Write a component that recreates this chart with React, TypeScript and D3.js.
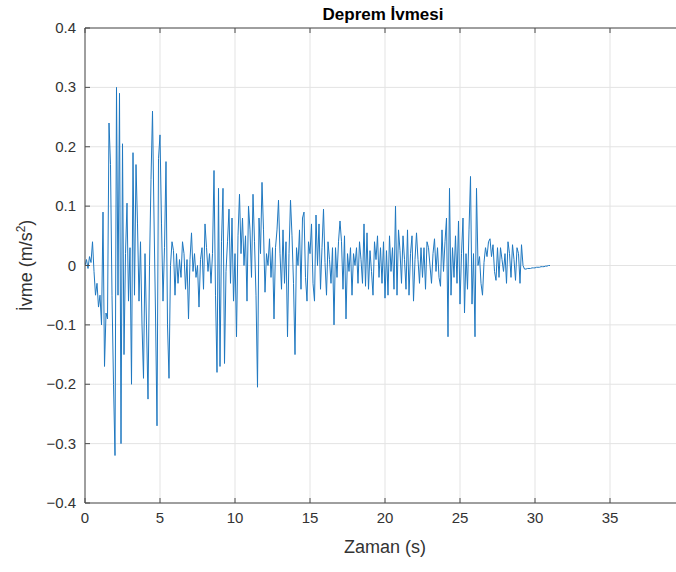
import React from "react";
import * as d3 from "d3";

const dt = 0.1;
const accel: number[] = [
  // 0-1 s
  0.000, 0.010, -0.005, 0.015, 0.005, 0.040, -0.010, -0.050, -0.030, -0.070,
  // 1-2
  -0.050, -0.100, 0.090, -0.170, -0.080, -0.090, 0.240, 0.170, -0.050, -0.200,
  // 2-3
  -0.320, 0.300, -0.050, 0.290, -0.300, 0.205, -0.150, 0.020, 0.105, -0.060,
  // 3-4
  0.030, -0.200, 0.190, -0.050, 0.170, 0.070, -0.060, 0.040, -0.100, -0.190,
  // 4-5
  0.020, -0.100, -0.225, 0.000, 0.145, 0.260, 0.080, -0.080, -0.270, 0.180,
  // 5-6
  0.220, 0.070, -0.060, 0.030, 0.175, -0.100, -0.190, 0.000, 0.040, 0.025,
  // 6-7
  -0.050, 0.020, -0.030, 0.010, -0.020, 0.040, 0.020, -0.040, 0.010, -0.090,
  // 7-8
  0.010, 0.055, -0.010, 0.020, -0.020, 0.000, -0.070, 0.010, 0.030, -0.040,
  // 8-9
  0.070, 0.030, -0.010, 0.020, -0.030, 0.020, 0.160, -0.050, -0.180, 0.130,
  // 9-10
  -0.170, 0.040, 0.130, -0.165, -0.010, 0.040, 0.095, -0.030, 0.080, -0.060,
  // 10-11
  0.020, -0.120, 0.050, 0.120, 0.020, 0.080, 0.000, 0.050, -0.060, 0.100,
  // 11-12
  0.060, -0.020, 0.120, 0.040, -0.050, -0.205, 0.080, 0.020, 0.140, 0.060,
  // 12-13
  -0.045, 0.020, 0.000, 0.045, -0.020, 0.030, -0.090, 0.030, 0.060, 0.110,
  // 13-14
  0.020, -0.040, 0.060, -0.030, 0.040, -0.120, 0.020, 0.110, 0.050, -0.030,
  // 14-15
  -0.150, 0.030, 0.000, 0.060, -0.040, 0.080, 0.090, -0.020, -0.060, 0.040,
  // 15-16
  0.020, 0.070, -0.030, -0.060, 0.085, 0.000, 0.070, -0.040, 0.030, 0.095,
  // 16-17
  0.005, -0.050, 0.040, 0.010, -0.030, 0.030, -0.100, 0.030, -0.020, 0.040,
  // 17-18
  0.075, 0.040, -0.040, 0.050, -0.090, 0.020, -0.010, 0.030, -0.050, 0.020,
  // 18-19
  0.000, 0.030, -0.030, 0.040, 0.010, -0.030, 0.070, -0.035, 0.055, -0.040,
  // 19-20
  0.025, -0.010, -0.050, 0.040, 0.010, 0.050, -0.020, 0.030, -0.030, 0.040,
  // 20-21
  -0.055, 0.025, -0.050, 0.050, -0.010, 0.030, -0.040, 0.100, -0.050, 0.060,
  // 21-22
  0.025, -0.030, 0.050, 0.010, -0.040, 0.060, -0.050, 0.020, 0.050, -0.060,
  // 22-23
  0.010, 0.055, 0.010, -0.030, 0.030, -0.020, 0.030, -0.040, 0.040, 0.030,
  // 23-24
  0.000, -0.030, 0.020, 0.045, -0.010, 0.030, -0.020, -0.035, 0.060, -0.010,
  // 24-25
  0.040, 0.080, -0.120, 0.130, -0.050, 0.030, -0.020, 0.050, -0.030, 0.075,
  // 25-26
  -0.065, 0.020, 0.080, -0.080, 0.020, -0.040, 0.060, 0.150, -0.065, 0.020,
  // 26-27
  -0.120, 0.130, 0.000, 0.015, -0.030, -0.050, 0.005, 0.030, 0.015, 0.040,
  // 27-28
  0.045, 0.015, 0.035, -0.010, -0.025, 0.030, -0.020, 0.030, 0.010, -0.010,
  // 28-29
  0.020, -0.030, 0.040, 0.020, -0.020, 0.035, 0.010, -0.025, 0.030, 0.020,
  // 29-29.2
  -0.030, 0.035, 0.000,
  // tail 29.3-31.0
  -0.006, -0.006, -0.005, -0.005, -0.005, -0.004, -0.004, -0.004, -0.003,
  -0.003, -0.003, -0.002, -0.002, -0.002, -0.001, -0.001, 0.000, 0.000,
];

const xTicks = [0, 5, 10, 15, 20, 25, 30, 35];
const yTicks = [-0.4, -0.3, -0.2, -0.1, 0, 0.1, 0.2, 0.3, 0.4];
const xDomain = [0, 40];
const yDomain = [-0.4, 0.4];
const titleText = "Deprem İvmesi";
const xLabelText = "Zaman (s)";

const W = 676;
const H = 572;
const M = { left: 85, top: 28, bottom: 503, right: 685 };
const FONT = "'Liberation Sans', Arial, Helvetica, sans-serif";

export default function App() {
  const x = d3.scaleLinear().domain(xDomain).range([M.left, M.right]);
  const y = d3.scaleLinear().domain(yDomain).range([M.bottom, M.top]);
  const pts: [number, number][] = accel.map((v, i) => [i * dt, v]);
  const line = d3
    .line<[number, number]>()
    .x((d) => x(d[0]))
    .y((d) => y(d[1]));
  const fmtY = (v: number) => (v === 0 ? "0" : d3.format(".1f")(v));
  const axisCol = "#4d4d4d";
  const gridCol = "#e3e3e3";
  const tickLen = 5;

  return (
    <svg
      width={W}
      height={H}
      style={{ position: "absolute", left: 0, top: 0, background: "#fff" }}
      fontFamily={FONT}
    >
      <rect x={0} y={0} width={W} height={H} fill="#fff" />
      <defs>
        <clipPath id="plotclip">
          <rect x={M.left} y={M.top} width={M.right - M.left} height={M.bottom - M.top} />
        </clipPath>
      </defs>
      {/* grid */}
      {xTicks.map((t) => (
        <line key={"gx" + t} x1={x(t)} x2={x(t)} y1={M.top} y2={M.bottom} stroke={gridCol} strokeWidth={1} />
      ))}
      {yTicks.map((t) => (
        <line key={"gy" + t} x1={M.left} x2={M.right} y1={y(t)} y2={y(t)} stroke={gridCol} strokeWidth={1} />
      ))}
      {/* data */}
      <path
        d={line(pts) || ""}
        fill="none"
        stroke="#1f78c0"
        strokeWidth={1}
        strokeLinejoin="round"
        clipPath="url(#plotclip)"
      />
      {/* axes box */}
      <line x1={M.left} x2={M.right} y1={M.top} y2={M.top} stroke={axisCol} strokeWidth={1} />
      <line x1={M.left} x2={M.right} y1={M.bottom} y2={M.bottom} stroke={axisCol} strokeWidth={1} />
      <line x1={M.left} x2={M.left} y1={M.top} y2={M.bottom} stroke={axisCol} strokeWidth={1} />
      {/* ticks */}
      {xTicks.map((t) => (
        <g key={"tx" + t}>
          <line x1={x(t)} x2={x(t)} y1={M.bottom} y2={M.bottom - tickLen} stroke={axisCol} />
          <line x1={x(t)} x2={x(t)} y1={M.top} y2={M.top + tickLen} stroke={axisCol} />
          <text x={x(t)} y={M.bottom + 20} textAnchor="middle" fontSize={15} fill="#333">
            {t}
          </text>
        </g>
      ))}
      {yTicks.map((t) => (
        <g key={"ty" + t}>
          <line x1={M.left} x2={M.left + tickLen} y1={y(t)} y2={y(t)} stroke={axisCol} />
          <text x={M.left - 9} y={y(t) + 5} textAnchor="end" fontSize={15} fill="#333">
            {fmtY(t)}
          </text>
        </g>
      ))}
      {/* title */}
      <text x={383} y={20} textAnchor="middle" fontSize={17} fontWeight="bold" fill="#000">
        {titleText}
      </text>
      {/* x label */}
      <text x={x(20)} y={M.bottom + 50} textAnchor="middle" fontSize={18} fill="#333">
        {xLabelText}
      </text>
      {/* y label */}
      <text
        transform={`translate(32, ${y(0)}) rotate(-90)`}
        textAnchor="middle"
        fontSize={18}
        fill="#333"
      >
        İvme (m/s
        <tspan fontSize={12} dy={-7}>2</tspan>
        <tspan dy={7}>)</tspan>
      </text>
    </svg>
  );
}
